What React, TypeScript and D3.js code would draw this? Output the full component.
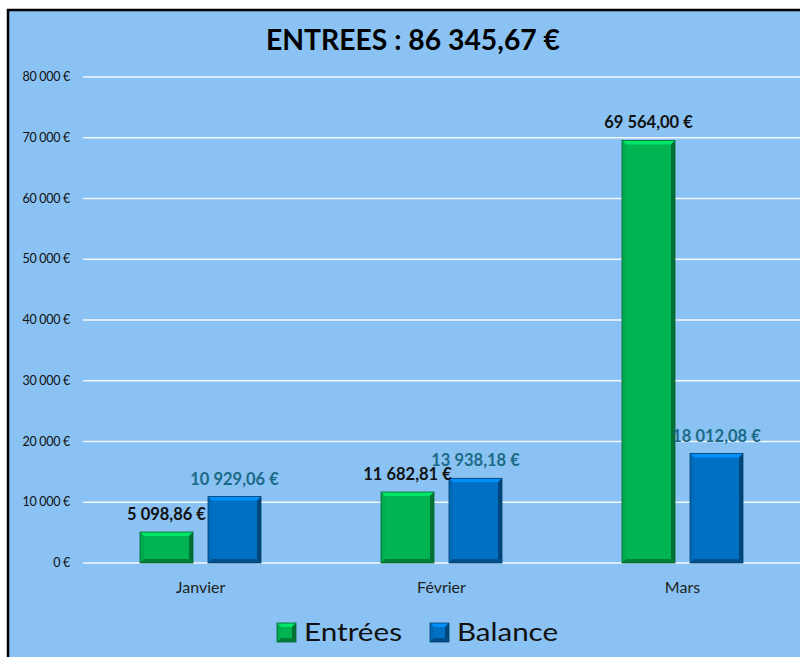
import React, { useEffect, useRef } from 'react';
import * as d3 from 'd3';

// chart data
const months = ['Janvier', 'Février', 'Mars'];
const entrees = [5098.86, 11682.81, 69564.0];
const balance = [10929.06, 13938.18, 18012.08];
const yTicks = [0, 10000, 20000, 30000, 40000, 50000, 60000, 70000, 80000];
const titleText = 'ENTREES : 86 345,67 €';

const FONT = 'Lato, "Open Sans", "Noto Sans", sans-serif';

// french money format : 12 345,67 €
const fmtMoney = (v: number) => {
  const [i, d] = v.toFixed(2).split('.');
  return i.replace(/\B(?=(\d{3})+(?!\d))/g, ' ') + ',' + d + ' €';
};
const fmtTick = (v: number) => d3.format(',')(v).replace(/,/g, ' ') + ' €';

const App = () => {
  const ref = useRef<SVGSVGElement>(null);

  useEffect(() => {
    if (!ref.current) return;
    const svg = d3.select(ref.current);
    svg.selectAll('*').remove();

    const width = 800;
    const height = 657;
    const plot = { left: 80, right: 803, top: 77, bottom: 563 };

    // background + frame
    svg.append('rect').attr('width', width).attr('height', height).attr('fill', '#ffffff');
    svg.append('rect')
      .attr('x', 8).attr('y', 10)
      .attr('width', width).attr('height', height)
      .attr('fill', '#89c2f3')
      .attr('stroke', '#000').attr('stroke-width', 2.5);

    // title
    svg.append('text')
      .attr('x', 413).attr('y', 50)
      .attr('text-anchor', 'middle')
      .style('font-family', FONT)
      .style('font-size', '28px')
      .style('font-weight', 700)
      .attr('textLength', 294)
      .attr('lengthAdjust', 'spacingAndGlyphs')
      .attr('fill', '#000')
      .text(titleText);

    const x = d3.scaleBand().domain(months).range([plot.left, plot.right]);
    const y = d3.scaleLinear().domain([0, 80000]).range([plot.bottom, plot.top]);

    // grid lines
    svg.append('g')
      .selectAll('line')
      .data(yTicks)
      .enter()
      .append('line')
      .attr('x1', 83).attr('x2', width)
      .attr('y1', d => y(d)).attr('y2', d => y(d))
      .attr('stroke', '#f4f8fc')
      .attr('stroke-width', 1.5);

    // y axis labels
    svg.append('g')
      .selectAll('text')
      .data(yTicks)
      .enter()
      .append('text')
      .attr('x', 70)
      .attr('y', d => y(d) + 4)
      .attr('text-anchor', 'end')
      .style('font-family', FONT)
      .style('font-size', '12.5px')
      .style('letter-spacing', '-0.3px')
      .attr('fill', '#111')
      .text(fmtTick);

    // category labels
    svg.append('g')
      .selectAll('text')
      .data(months)
      .enter()
      .append('text')
      .attr('x', d => (x(d) as number) + x.bandwidth() / 2)
      .attr('y', 593)
      .attr('text-anchor', 'middle')
      .style('font-family', FONT)
      .style('font-size', '16px')
      .attr('fill', '#222')
      .text(d => d);

    const barW = 53;
    const gap = 15;

    // bevelled bar (Excel style)
    const bevelBar = (g: any, bx: number, by: number, w: number, h: number, base: string) => {
      const b = Math.min(4, h / 2);
      const c = d3.color(base) as d3.RGBColor;
      g.append('rect').attr('x', bx).attr('y', by).attr('width', w).attr('height', h).attr('fill', base);
      const poly = (pts: number[][], fill: string) =>
        g.append('polygon').attr('points', pts.map(p => p.join(',')).join(' ')).attr('fill', fill);
      // top light
      poly([[bx, by], [bx + w, by], [bx + w - b, by + b], [bx + b, by + b]], c.brighter(0.7).formatHex());
      // left
      poly([[bx, by], [bx + b, by + b], [bx + b, by + h - b], [bx, by + h]], c.darker(0.15).formatHex());
      // right dark
      poly([[bx + w, by], [bx + w, by + h], [bx + w - b, by + h - b], [bx + w - b, by + b]], c.darker(1.3).formatHex());
      // bottom dark
      poly([[bx, by + h], [bx + b, by + h - b], [bx + w - b, by + h - b], [bx + w, by + h]], c.darker(1).formatHex());
      g.append('rect').attr('x', bx).attr('y', by).attr('width', w).attr('height', h)
        .attr('fill', 'none').attr('stroke', c.darker(1.6).formatHex()).attr('stroke-width', 0.8);
    };

    const series = [
      { name: 'Entrées', values: entrees, color: '#00b451', label: '#111111', offset: -(barW + gap / 2) },
      { name: 'Balance', values: balance, color: '#0070c4', label: '#1b6a86', offset: gap / 2 },
    ];

    const bars = svg.append('g');
    series.forEach(s => {
      s.values.forEach((v, i) => {
        const cx = (x(months[i]) as number) + x.bandwidth() / 2;
        const bx = cx + s.offset;
        bevelBar(bars, bx, y(v), barW, y(0) - y(v), s.color);
      });
    });

    // data labels
    series.forEach(s => {
      svg.append('g')
        .selectAll('text')
        .data(s.values)
        .enter()
        .append('text')
        .attr('x', (d, i) => (x(months[i]) as number) + x.bandwidth() / 2 + s.offset + barW / 2)
        .attr('y', d => y(d) - 12)
        .attr('text-anchor', 'middle')
        .style('font-family', FONT)
        .style('font-size', '16.5px')
        .style('font-weight', 700)
        .attr('fill', s.label)
        .text(d => fmtMoney(d));
    });

    // legend
    const legend = [
      { name: 'Entrées', color: '#00b451', sx: 277, tx: 304, tw: 98 },
      { name: 'Balance', color: '#0070c4', sx: 430, tx: 457, tw: 101 },
    ];
    legend.forEach(l => {
      bevelBar(svg, l.sx, 623, 19, 19, l.color);
      svg.append('text')
        .attr('x', l.tx).attr('y', 641)
        .style('font-family', FONT)
        .style('font-size', '25px')
        .attr('textLength', l.tw)
        .attr('lengthAdjust', 'spacingAndGlyphs')
        .attr('fill', '#111')
        .text(l.name);
    });
  }, []);

  return (
    <svg ref={ref} width={800} height={657} style={{ position: 'absolute', left: 0, top: 0 }} />
  );
};

export default App;
